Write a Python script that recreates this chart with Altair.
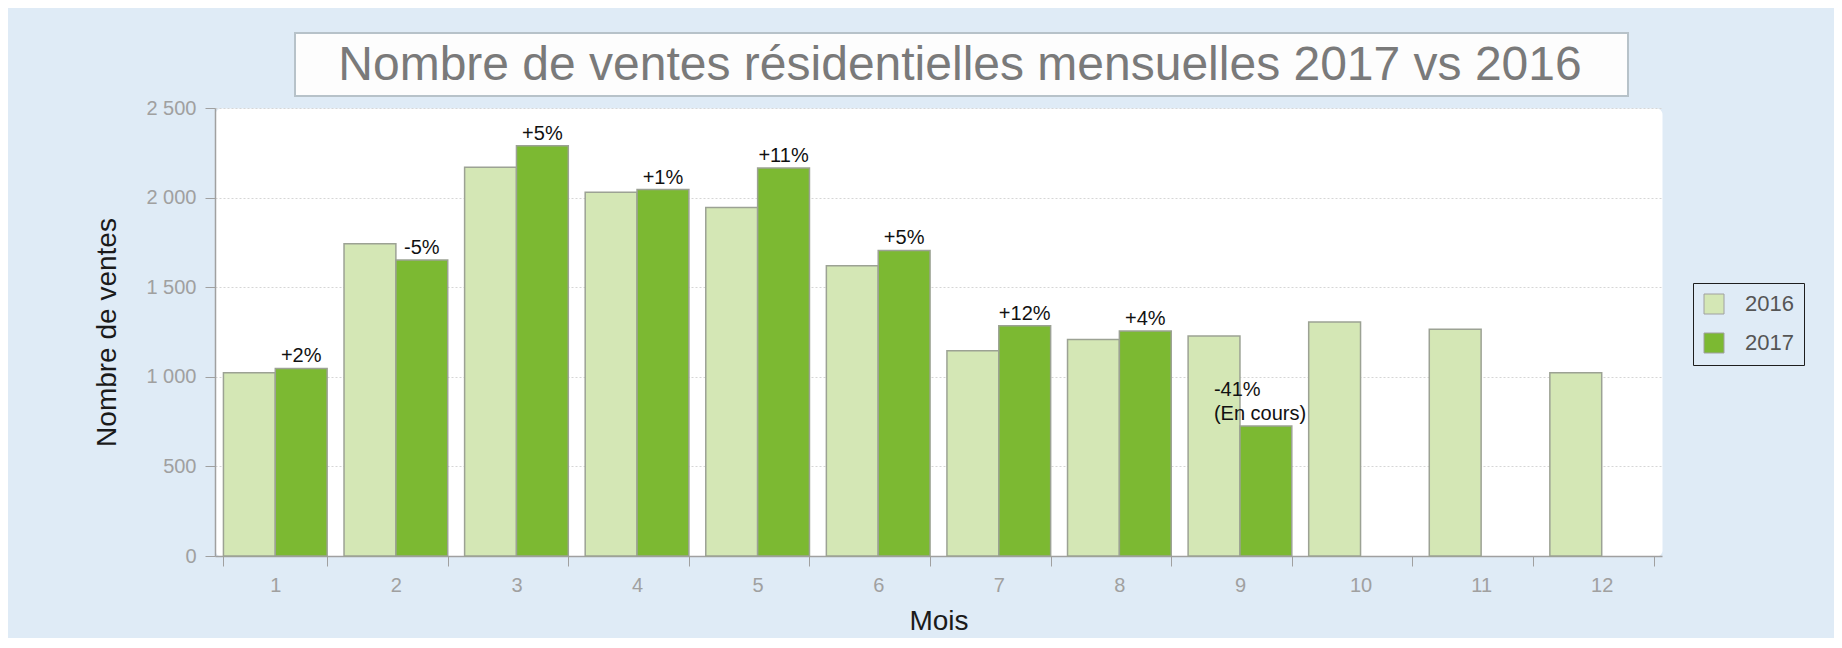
import altair as alt
import pandas as pd

# ---- data ----
mois = [str(m) for m in range(1, 13)]
annees = ["2016", "2017"]
ventes_2016 = [1022, 1742, 2170, 2030, 1945, 1620, 1145, 1208, 1228, 1306, 1265, 1022]
ventes_2017 = [1047, 1652, 2290, 2045, 2165, 1705, 1285, 1255, 725]
variations_2017 = ["+2%", "-5%", "+5%", "+1%", "+11%", "+5%", "+12%", "+4%", "-41%\n(En cours)"]
titre = "Nombre de ventes résidentielles mensuelles 2017 vs 2016"
y_ticks = [0, 500, 1000, 1500, 2000, 2500]

rows = []
for i, m in enumerate(mois):
    rows.append({"mois": m, "annee": "2016", "ventes": ventes_2016[i], "variation": ""})
    if i < len(ventes_2017):
        rows.append({"mois": m, "annee": "2017", "ventes": ventes_2017[i],
                     "variation": variations_2017[i]})
df = pd.DataFrame(rows)

FONT = "Liberation Sans, Arial, sans-serif"
W, H = 1447, 448
GRAY = "#a0a0a0"

x_enc = alt.X(
    "mois:O", sort=mois,
    scale=alt.Scale(paddingInner=0.14, paddingOuter=0.07),
    axis=alt.Axis(
        title="Mois", labelAngle=0, labelFontSize=20, labelColor=GRAY, labelPadding=9,
        tickBand="extent", tickSize=10, tickColor=GRAY, domainColor=GRAY, domainWidth=1.5,
        grid=False, titleFontSize=28, titleColor="#1a1a1a", titleFontWeight="normal",
        titleX=W / 2, titleY=73, titleBaseline="alphabetic", titleAlign="center",
    ),
)
y_enc = alt.Y(
    "ventes:Q",
    scale=alt.Scale(domain=[0, 2500], nice=False),
    axis=alt.Axis(
        title="Nombre de ventes", values=y_ticks,
        labelExpr="replace(format(datum.value, ','), ',', ' ')",
        labelFontSize=20, labelColor=GRAY, labelPadding=9, tickSize=10, tickColor=GRAY,
        domainColor=GRAY, domainWidth=1.5, grid=True, gridColor="#d6d6d6", gridDash=[2, 2],
        titleFontSize=28, titleColor="#1a1a1a", titleFontWeight="normal",
        titleX=-100, titleY=H / 2, titleAngle=270, titleBaseline="alphabetic",
        titleAlign="center",
    ),
)

base = alt.Chart(df).encode(
    x=x_enc,
    xOffset=alt.XOffset("annee:N", sort=annees),
    y=y_enc,
)

bars = base.mark_bar(stroke="#9ca294", strokeWidth=1.5).encode(
    color=alt.Color(
        "annee:N", title=None,
        scale=alt.Scale(domain=annees, range=["#d4e7b5", "#7cb932"]),
        legend=alt.Legend(
            orient="none", legendX=1478, legendY=175, direction="vertical",
            symbolType="square", symbolSize=400, symbolStrokeColor=GRAY,
            symbolStrokeWidth=1, labelFontSize=22, labelColor="#555555",
            labelOffset=20, rowPadding=15, padding=10, strokeColor="#1e1e1e",
        ),
    )
)

labels = base.transform_filter(
    "datum.annee == '2017' && indexof(datum.variation, '\\n') < 0"
).mark_text(
    baseline="bottom", dy=-2, fontSize=20, color="#111111", font=FONT
).encode(text="variation:N")

label_en_cours = base.transform_filter(
    "indexof(datum.variation, '\\n') >= 0"
).mark_text(
    align="left", baseline="bottom", dx=-52, dy=-26, fontSize=20, color="#111111",
    font=FONT, lineBreak="\n", lineHeight=24
).encode(text="variation:N")

title_data = alt.Data(values=[{"titre": titre}])
title_box = alt.Chart(title_data).mark_rect(
    fill="#fdfdfd", stroke="#b7c2c9", strokeWidth=2
).encode(
    x=alt.value(80), x2=alt.value(1413), y=alt.value(-75), y2=alt.value(-12)
)
title_text = alt.Chart(title_data).mark_text(
    fontSize=48, color="#7a7a7a", font=FONT, align="center", baseline="alphabetic"
).encode(
    x=alt.value(745), y=alt.value(-28), text="titre:N"
)

chart = alt.layer(title_box, title_text, bars, labels, label_en_cours).properties(
    width=W, height=H,
    autosize=alt.AutoSizeParams(type="none"),
    padding={"left": 207, "top": 100, "right": 172, "bottom": 82},
    background="#dfebf6",
).configure(font=FONT).configure_view(
    fill="white", stroke="transparent", cornerRadius=6
)

chart.save("out.html", embed_options={"renderer": "svg", "actions": False})
